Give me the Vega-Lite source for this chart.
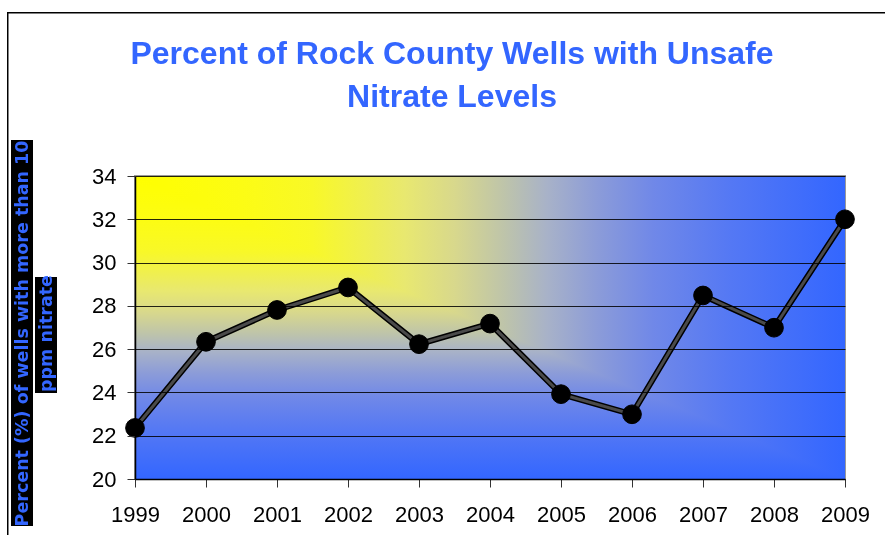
{
  "$schema": "https://vega.github.io/schema/vega-lite/v6.json",
  "width": 710,
  "height": 303,
  "autosize": {"type": "none"},
  "padding": {"left": 135, "top": 176, "right": 40, "bottom": 56},
  "background": "white",
  "view": {"stroke": "#999999", "strokeWidth": 2},
  "title": {
    "text": ["Percent of Rock County Wells with Unsafe", "Nitrate Levels"],
    "font": "Liberation Sans",
    "fontSize": 32,
    "fontWeight": "bold",
    "color": "#3366FF",
    "lineHeight": 43,
    "anchor": "middle",
    "frame": "group",
    "dx": -38,
    "offset": -102
  },
  "data": {
    "values": [
      {"year": 1999, "pct": 22.36},
      {"year": 2000, "pct": 26.34},
      {"year": 2001, "pct": 27.81},
      {"year": 2002, "pct": 28.85},
      {"year": 2003, "pct": 26.23},
      {"year": 2004, "pct": 27.18},
      {"year": 2005, "pct": 23.92},
      {"year": 2006, "pct": 22.99},
      {"year": 2007, "pct": 28.48},
      {"year": 2008, "pct": 26.99},
      {"year": 2009, "pct": 32.0}
    ]
  },
  "layer": [
    {
      "data": {"values": [{"panel": "frame"}]},
      "mark": {"type": "rect", "color": "black"},
      "encoding": {
        "x": {"datum": 1999, "type": "quantitative", "title": null, "scale": {"domain": [1999, 2009], "nice": false, "zero": false}, "axis": {
          "values": [1999, 2000, 2001, 2002, 2003, 2004, 2005, 2006, 2007, 2008, 2009],
          "format": "d", "title": null, "grid": false, "labelFont": "Liberation Sans", "labelFontSize": 22,
          "labelColor": "black", "labelFlush": false, "labelPadding": 17, "tickSize": 8, "tickColor": "#333333",
          "domainColor": "black", "domainWidth": 1.5, "zindex": 1
        }},
        "x2": {"datum": 2009},
        "y": {"datum": 20, "type": "quantitative", "title": ["Percent (%) of wells with more than 10", "ppm nitrate"], "scale": {"domain": [20, 34], "nice": false, "zero": false}},
        "y2": {"datum": 34},
        "opacity": {"field": "panel", "type": "ordinal", "scale": {"range": [1, 1]}, "legend": {
          "orient": "none", "legendX": -128, "legendY": -164, "padding": 0, "title": null,
          "symbolType": "M1,-1L-1,-1L-1,1L-0.9966,1L-0.9966,-0.9966L1,-0.9966Z",
          "symbolSize": 774400, "symbolFillColor": "black", "symbolStrokeWidth": 0,
          "labelExpr": "''", "labelOpacity": 0, "zindex": 0
        }}
      }
    },
    {
      "data": {"values": [{"panel": "plot"}]},
      "mark": {"type": "rect", "fill": {"gradient": "linear", "x1": 0, "y1": 0, "x2": 0, "y2": 1, "stops": [
        {"offset": 0, "color": "rgb(255,255,0)"}, {"offset": 0.15, "color": "rgb(252,252,0)"}, {"offset": 0.25, "color": "rgb(248,248,0)"}, {"offset": 0.38, "color": "rgb(232,232,0)"}, {"offset": 0.45, "color": "rgb(216,216,0)"}, {"offset": 0.52, "color": "rgb(190,196,0)"}, {"offset": 0.58, "color": "rgb(168,178,0)"}, {"offset": 0.65, "color": "rgb(140,156,0)"}, {"offset": 0.73, "color": "rgb(112,136,0)"}, {"offset": 0.84, "color": "rgb(84,120,0)"}, {"offset": 1, "color": "rgb(51,102,0)"}]}},
      "encoding": {
        "x": {"datum": 1999, "type": "quantitative", "title": null},
        "x2": {"datum": 2009},
        "y": {"datum": 20, "type": "quantitative", "title": ["Percent (%) of wells with more than 10", "ppm nitrate"]},
        "y2": {"datum": 34}
      }
    },
    {
      "data": {"values": [{"panel": "plot"}]},
      "mark": {"type": "rect", "blend": "darken", "fill": {"gradient": "linear", "x1": 0, "y1": 0, "x2": 1, "y2": 0, "stops": [
        {"offset": 0, "color": "rgb(255,255,0)"}, {"offset": 0.15, "color": "rgb(252,252,0)"}, {"offset": 0.25, "color": "rgb(248,248,0)"}, {"offset": 0.38, "color": "rgb(232,232,0)"}, {"offset": 0.45, "color": "rgb(216,216,0)"}, {"offset": 0.52, "color": "rgb(190,196,0)"}, {"offset": 0.58, "color": "rgb(168,178,0)"}, {"offset": 0.65, "color": "rgb(140,156,0)"}, {"offset": 0.73, "color": "rgb(112,136,0)"}, {"offset": 0.84, "color": "rgb(84,120,0)"}, {"offset": 1, "color": "rgb(51,102,0)"}]}},
      "encoding": {
        "x": {"datum": 1999, "type": "quantitative", "title": null},
        "x2": {"datum": 2009},
        "y": {"datum": 20, "type": "quantitative", "title": ["Percent (%) of wells with more than 10", "ppm nitrate"]},
        "y2": {"datum": 34}
      }
    },
    {
      "data": {"values": [{"panel": "plot"}]},
      "mark": {"type": "rect", "blend": "lighten", "fill": {"gradient": "linear", "x1": 0, "y1": 0, "x2": 0, "y2": 1, "stops": [
        {"offset": 0, "color": "rgb(0,0,0)"}, {"offset": 0.15, "color": "rgb(0,0,20)"}, {"offset": 0.25, "color": "rgb(0,0,40)"}, {"offset": 0.38, "color": "rgb(0,0,112)"}, {"offset": 0.45, "color": "rgb(0,0,140)"}, {"offset": 0.52, "color": "rgb(0,0,170)"}, {"offset": 0.58, "color": "rgb(0,0,200)"}, {"offset": 0.65, "color": "rgb(0,0,216)"}, {"offset": 0.73, "color": "rgb(0,0,232)"}, {"offset": 0.84, "color": "rgb(0,0,244)"}, {"offset": 1, "color": "rgb(0,0,255)"}]}},
      "encoding": {
        "x": {"datum": 1999, "type": "quantitative", "title": null},
        "x2": {"datum": 2009},
        "y": {"datum": 20, "type": "quantitative", "title": ["Percent (%) of wells with more than 10", "ppm nitrate"]},
        "y2": {"datum": 34}
      }
    },
    {
      "data": {"values": [{"panel": "plot"}]},
      "mark": {"type": "rect", "blend": "lighten", "fill": {"gradient": "linear", "x1": 0, "y1": 0, "x2": 1, "y2": 0, "stops": [
        {"offset": 0, "color": "rgb(0,0,0)"}, {"offset": 0.15, "color": "rgb(0,0,20)"}, {"offset": 0.25, "color": "rgb(0,0,40)"}, {"offset": 0.38, "color": "rgb(0,0,112)"}, {"offset": 0.45, "color": "rgb(0,0,140)"}, {"offset": 0.52, "color": "rgb(0,0,170)"}, {"offset": 0.58, "color": "rgb(0,0,200)"}, {"offset": 0.65, "color": "rgb(0,0,216)"}, {"offset": 0.73, "color": "rgb(0,0,232)"}, {"offset": 0.84, "color": "rgb(0,0,244)"}, {"offset": 1, "color": "rgb(0,0,255)"}]}},
      "encoding": {
        "x": {"datum": 1999, "type": "quantitative", "title": null},
        "x2": {"datum": 2009},
        "y": {"datum": 20, "type": "quantitative", "title": ["Percent (%) of wells with more than 10", "ppm nitrate"]},
        "y2": {"datum": 34}
      }
    },
    {
      "mark": {"type": "line", "color": "black", "strokeWidth": 6},
      "encoding": {
        "x": {"field": "year", "type": "quantitative", "title": null},
        "y": {"field": "pct", "type": "quantitative", "title": ["Percent (%) of wells with more than 10", "ppm nitrate"]}
      }
    },
    {
      "mark": {"type": "line", "color": "#4a4a4a", "strokeWidth": 3},
      "encoding": {
        "x": {"field": "year", "type": "quantitative", "title": null},
        "y": {"field": "pct", "type": "quantitative", "title": ["Percent (%) of wells with more than 10", "ppm nitrate"]}
      }
    },
    {
      "mark": {"type": "point", "filled": true, "opacity": 1, "size": 350, "strokeWidth": 1},
      "encoding": {
        "x": {"field": "year", "type": "quantitative", "title": null},
        "y": {"field": "pct", "type": "quantitative", "title": ["Percent (%) of wells with more than 10", "ppm nitrate"], "axis": {
          "orient": "left", "zindex": 1, "values": [20, 22, 24, 26, 28, 30, 32, 34],
          "grid": true, "gridColor": "black", "gridWidth": 1, "gridOpacity": 0.85,
          "labelFont": "Liberation Sans", "labelFontSize": 22, "labelColor": "black", "labelPadding": 11,
          "tickSize": 8, "tickColor": "#333333", "domainColor": "black", "domainWidth": 1.5,
          "title": ["Percent (%) of wells with more than 10", "ppm nitrate"],
          "titleFont": "DejaVu Sans", "titleFontSize": 17.5, "titleFontWeight": "bold", "titleColor": "#3366FF",
          "titleLineHeight": 24, "titleAngle": -90, "titleAlign": "center", "titleBaseline": "bottom",
          "titleX": -104, "titleY": 157
        }},
        "fill": {"field": "pct", "type": "quantitative", "scale": {"range": ["black", "black"]}, "legend": {
          "orient": "none", "legendX": -124, "legendY": -36, "direction": "vertical",
          "gradientLength": 386, "gradientThickness": 22, "gradientStrokeWidth": 0,
          "labelExpr": "''", "labelOpacity": 0, "title": null, "padding": 0, "zindex": 0
        }},
        "stroke": {"field": "year", "type": "quantitative", "scale": {"range": ["black", "black"]}, "legend": {
          "orient": "none", "legendX": -100, "legendY": 101, "direction": "vertical",
          "gradientLength": 116, "gradientThickness": 22, "gradientStrokeWidth": 0,
          "labelExpr": "''", "labelOpacity": 0, "title": null, "padding": 0, "zindex": 0
        }}
      }
    }
  ]
}
